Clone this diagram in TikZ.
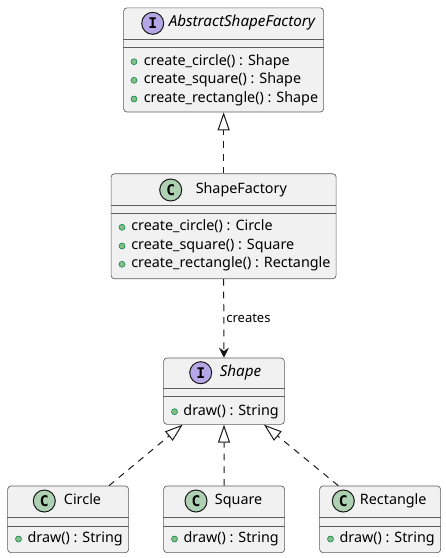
\documentclass[tikz,border=0pt]{standalone}
\usepackage{fontspec}
\setmainfont{Noto Sans}
\newfontfamily\iconfont{DejaVu Sans Mono}
\usepackage{xcolor}
\usepackage{tikz}
\usetikzlibrary{arrows.meta,calc}

\definecolor{boxfill}{HTML}{F1F1F1}
\definecolor{boxline}{HTML}{181818}
\definecolor{classicon}{HTML}{ADD1B2}
\definecolor{ifaceicon}{HTML}{B4A7E5}
\definecolor{bulletfill}{HTML}{84BE84}
\definecolor{bulletline}{HTML}{038048}

\begin{document}
\begin{tikzpicture}[x=0.75pt, y=-0.75pt,
  font=\fontsize{10.75}{12}\selectfont,
  umlbox/.style={draw=boxline!70, fill=boxfill, line width=0.5pt, rounded corners=2.5pt,
    inner sep=0pt, anchor=north west},
  sepline/.style={draw=boxline!70, line width=0.5pt},
  icon/.style={circle, draw=boxline, line width=0.75pt, minimum size=16.5pt, inner sep=0pt,
    font=\iconfont\bfseries\fontsize{11}{11}\selectfont},
  title/.style={anchor=west, inner sep=0pt, text height=7.5pt, text depth=2.25pt},
  ititle/.style={title, font=\itshape\fontsize{11.4}{12}\selectfont},
  member/.style={anchor=west, inner sep=0pt, text height=7.5pt, text depth=2.25pt},
  bullet/.style={circle, fill=bulletfill, draw=bulletline, line width=0.4pt,
    minimum size=4.5pt, inner sep=0pt},
  link/.style={draw=boxline, line width=0.75pt, dash pattern=on 5pt off 4.5pt},
  realize/.style={link, -{Triangle[open, length=13.5pt, width=9pt]}},
  uses/.style={link, -{Stealth[length=7.5pt, width=7.5pt, inset=2.5pt]}}
]
\useasboundingbox (0,0) rectangle (446,558);

% AbstractShapeFactory (interface)
\node[umlbox, minimum width=200*0.75pt, minimum height=104.2*0.75pt] (asf) at (123.3,7.5) {};
\draw[sepline] ($(asf.north west)+(0,32)$) -- ($(asf.north east)+(0,32)$);
\draw[sepline] ($(asf.north west)+(0,40)$) -- ($(asf.north east)+(0,40)$);
\node[icon, fill=ifaceicon] (asficon) at (152.7,23.3) {I};
\node[ititle] (asftitle) at (168.5,23.3) {AbstractShapeFactory};
\node[bullet] (asfb1) at (134,61.7) {};
\node[bullet] (asfb2) at (134,80.3) {};
\node[bullet] (asfb3) at (134,99) {};
\node[member] (asfm1) at (143.5,61.7) {create\_circle() : Shape};
\node[member] (asfm2) at (143.5,80.3) {create\_square() : Shape};
\node[member] (asfm3) at (143.5,99) {create\_rectangle() : Shape};

% ShapeFactory (class)
\node[umlbox, minimum width=225*0.75pt, minimum height=105*0.75pt] (sf) at (110.8,173.4) {};
\draw[sepline] ($(sf.north west)+(0,32)$) -- ($(sf.north east)+(0,32)$);
\draw[sepline] ($(sf.north west)+(0,40)$) -- ($(sf.north east)+(0,40)$);
\node[icon, fill=classicon] (sficon) at (170.7,190) {C};
\node[title] (sftitle) at (195.5,190) {ShapeFactory};
\node[bullet] (sfb1) at (122,227.3) {};
\node[bullet] (sfb2) at (122,246) {};
\node[bullet] (sfb3) at (122,264.3) {};
\node[member] (sfm1) at (131,227.3) {create\_circle() : Circle};
\node[member] (sfm2) at (131,246) {create\_square() : Square};
\node[member] (sfm3) at (131,264.3) {create\_rectangle() : Rectangle};

% Shape (interface)
\node[umlbox, minimum width=120.7*0.75pt, minimum height=66.3*0.75pt] (shape) at (163.3,357.7) {};
\draw[sepline] ($(shape.north west)+(0,30.8)$) -- ($(shape.north east)+(0,30.8)$);
\draw[sepline] ($(shape.north west)+(0,39)$) -- ($(shape.north east)+(0,39)$);
\node[icon, fill=ifaceicon] (shapeicon) at (200.7,372.7) {I};
\node[ititle] (shapetitle) at (219.5,372.7) {Shape};
\node[bullet] (shapeb) at (174.5,411.7) {};
\node[member] (shapem) at (183.2,411.7) {draw() : String};

% Circle, Square, Rectangle (classes)
\node[umlbox, minimum width=121*0.75pt, minimum height=66.6*0.75pt] (circ) at (7.3,485.7) {};
\node[umlbox, minimum width=121*0.75pt, minimum height=66.6*0.75pt] (sq) at (163.3,485.7) {};
\node[umlbox, minimum width=121*0.75pt, minimum height=66.6*0.75pt] (rect) at (319.3,485.7) {};
\foreach \b in {circ,sq,rect} {
  \draw[sepline] ($(\b.north west)+(0,32)$) -- ($(\b.north east)+(0,32)$);
  \draw[sepline] ($(\b.north west)+(0,40.3)$) -- ($(\b.north east)+(0,40.3)$);
  \node[bullet] (\b b) at ($(\b.north west)+(11.2,53.3)$) {};
  \node[member] (\b m) at ($(\b.north west)+(20,53.3)$) {draw() : String};
}
\node[icon, fill=classicon] (circicon) at (44.3,501) {C};
\node[title] (circtitle) at (63.7,501) {Circle};
\node[icon, fill=classicon] (sqicon) at (196,501) {C};
\node[title] (sqtitle) at (214.7,501) {Square};
\node[icon, fill=classicon] (recticon) at (343.3,501) {C};
\node[title] (recttitle) at (359.7,501) {Rectangle};

% Links
\draw[realize] (sf.north) -- (asf.south);
\draw[uses] (sf.south) -- node[anchor=west, inner sep=0pt, xshift=1.5pt, font=\fontsize{9.75}{11}\selectfont] (createslbl) {creates} (shape.north);
\draw[realize] ($(circ.north east)+(-20,0)$) -- ($(shape.south west)+(19.4,0)$);
\draw[realize] (sq.north) -- (shape.south);
\draw[realize] ($(rect.north west)+(19,0)$) -- ($(shape.south east)+(-20.7,0)$);

\end{tikzpicture}
\end{document}
